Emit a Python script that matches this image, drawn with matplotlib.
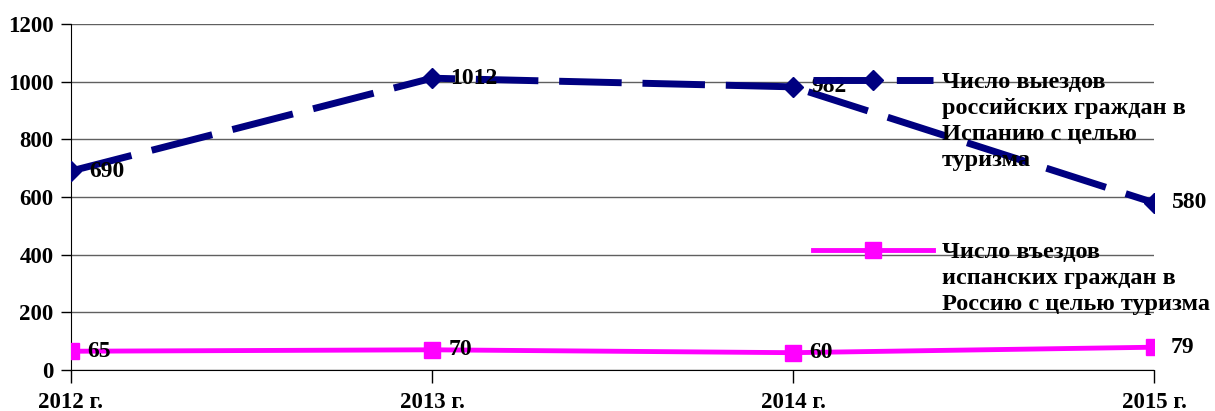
import matplotlib
matplotlib.use('Agg')
import matplotlib.pyplot as plt

# data
years = ['2012 г.', '2013 г.', '2014 г.', '2015 г.']
ru_to_es = [690, 1012, 982, 580]
es_to_ru = [65, 70, 60, 79]
label_ru = 'Число выездов\nроссийских граждан в\nИспанию с целью\nтуризма'
label_es = 'Число въездов\nиспанских граждан в\nРоссию с целью туризма'
y_ticks = [0, 200, 400, 600, 800, 1000, 1200]

plt.rcParams['font.family'] = ['Liberation Serif', 'DejaVu Serif']
plt.rcParams['font.weight'] = 'bold'
fs = 16.5
leg_fs = 17.5

fig = plt.figure(figsize=(12.15, 4.11), dpi=100)
ax = fig.add_axes([0.0584, 0.0998, 0.8914, 0.8418])

x = list(range(len(years)))
ax.plot(x, ru_to_es, color='#000080', lw=5, dashes=(9, 3), marker='D', ms=10,
        label=label_ru, zorder=3, dash_capstyle='butt')
ax.plot(x, es_to_ru, color='#FF00FF', lw=3.5, marker='s', ms=12,
        label=label_es, zorder=3)

for xi, v in zip(x, ru_to_es):
    ax.annotate(str(v), (xi, v), xytext=(13, 0), textcoords='offset points',
                ha='left', va='center', fontsize=fs + 0.5, fontweight='bold', zorder=5)
for xi, v in zip(x, es_to_ru):
    ax.annotate(str(v), (xi, v), xytext=(12, 0), textcoords='offset points',
                ha='left', va='center', fontsize=fs + 0.5, fontweight='bold', zorder=5)

ax.set_xlim(0, 3)
ax.set_ylim(0, 1200)
ax.set_xticks(x)
ax.set_xticklabels(years)
ax.set_yticks(y_ticks)
ax.tick_params(axis='y', direction='out', length=7.5, width=1, pad=5, labelsize=fs)
ax.tick_params(axis='x', direction='out', length=9, width=1, pad=7, labelsize=fs)
ax.grid(axis='y', color='#606060', lw=1)
ax.set_axisbelow(True)
for s in ['top', 'right']:
    ax.spines[s].set_visible(False)
ax.spines['left'].set_color('black')
ax.spines['bottom'].set_color('black')

leg = ax.legend(loc='upper left', bbox_to_anchor=(0.685, 0.862), frameon=False,
                fontsize=leg_fs, handlelength=4.95, handletextpad=0.37,
                labelspacing=2.9, borderaxespad=0, borderpad=0)
for t in leg.get_texts():
    t.set_linespacing(1.32)
for col in leg._legend_handle_box.get_children():
    for item in col.get_children():
        item.align = 'top'

fig.savefig('out.png', dpi=100)
